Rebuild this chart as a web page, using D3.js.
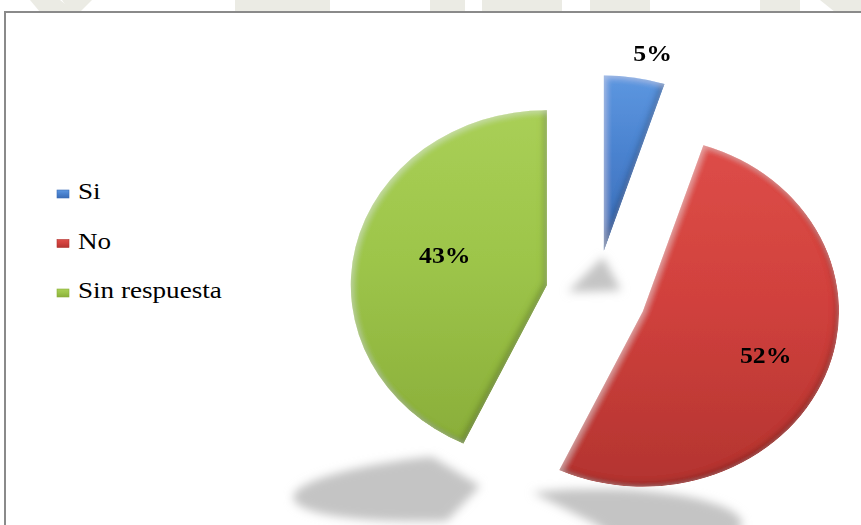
<!DOCTYPE html>
<html>
<head>
<meta charset="utf-8">
<script src="https://cdn.jsdelivr.net/npm/d3@7/dist/d3.min.js"></script>
<style>
  body { margin: 0; background: #fff; }
  text { font-family: "Liberation Serif", "Times New Roman", Tinos, serif; }
</style>
</head>
<body>
<div id="chart"></div>
<script>

// data
const categories = ["Si", "No", "Sin respuesta"];
const values = [5, 52, 43];
const colors = ["#4a82cf", "#d1413d", "#9dc54a"];
const colorsLight = ["#5d97e0", "#dd4d48", "#a9cf56"];
const colorsDark = ["#3a6cb6", "#b33430", "#8aae3a"];

const W = 861, H = 525;

const svg = d3.select("#chart").append("svg")
    .attr("width", W)
    .attr("height", H);

const defs = svg.append("defs");

// bevel: dark inner edge bottom-right, light inner edge top-left
let bevel = defs.append("filter").attr("id", "bevel")
    .attr("x", "-10%").attr("y", "-10%").attr("width", "120%").attr("height", "120%");
bevel.append("feGaussianBlur").attr("in", "SourceAlpha").attr("stdDeviation", 3).attr("result", "blur");
bevel.append("feOffset").attr("in", "blur").attr("dx", -3).attr("dy", -3).attr("result", "offDark");
bevel.append("feComposite").attr("in", "SourceAlpha").attr("in2", "offDark")
    .attr("operator", "arithmetic").attr("k2", 1).attr("k3", -1).attr("result", "edgeDark");
bevel.append("feFlood").attr("flood-color", "#000").attr("flood-opacity", 0.45);
bevel.append("feComposite").attr("in2", "edgeDark").attr("operator", "in").attr("result", "shadeDark");
bevel.append("feOffset").attr("in", "blur").attr("dx", 2).attr("dy", 2).attr("result", "offLight");
bevel.append("feComposite").attr("in", "SourceAlpha").attr("in2", "offLight")
    .attr("operator", "arithmetic").attr("k2", 1).attr("k3", -1).attr("result", "edgeLight");
bevel.append("feFlood").attr("flood-color", "#fff").attr("flood-opacity", 0.35);
bevel.append("feComposite").attr("in2", "edgeLight").attr("operator", "in").attr("result", "shadeLight");
let merge = bevel.append("feMerge");
merge.append("feMergeNode").attr("in", "SourceGraphic");
merge.append("feMergeNode").attr("in", "shadeDark");
merge.append("feMergeNode").attr("in", "shadeLight");

defs.append("filter").attr("id", "soft")
    .attr("x", "-30%").attr("y", "-100%").attr("width", "160%").attr("height", "300%")
    .append("feGaussianBlur").attr("stdDeviation", 5);

colors.forEach((c, i) => {
    let g = defs.append("linearGradient").attr("id", "grad" + i)
        .attr("x1", 0).attr("y1", 0).attr("x2", 0).attr("y2", 1);
    g.append("stop").attr("offset", "0%").attr("stop-color", colorsLight[i]);
    g.append("stop").attr("offset", "45%").attr("stop-color", c);
    g.append("stop").attr("offset", "100%").attr("stop-color", colorsDark[i]);
});

// faint watermark above the frame
const wm = svg.append("g").attr("fill", "#ebebe4");
wm.append("path").attr("d", "M30,0 L60,0 L75,12 L40,12 Z");
wm.append("path").attr("d", "M62,0 L92,0 L80,12 L70,12 Z");
wm.append("rect").attr("x", 235).attr("y", 0).attr("width", 95).attr("height", 12);
wm.append("rect").attr("x", 430).attr("y", 0).attr("width", 35).attr("height", 12);
wm.append("rect").attr("x", 482).attr("y", 0).attr("width", 80).attr("height", 12);
wm.append("rect").attr("x", 590).attr("y", 0).attr("width", 60).attr("height", 12);
wm.append("rect").attr("x", 760).attr("y", 0).attr("width", 40).attr("height", 12);
wm.append("path").attr("d", "M820,0 L861,0 L861,12 L835,12 Z");

// chart frame
svg.append("rect")
    .attr("x", 5).attr("y", 12)
    .attr("width", W + 20).attr("height", H)
    .attr("fill", "#fff")
    .attr("stroke", "#8a8a8a")
    .attr("stroke-width", 2);

// pie layout
const r = 175, sx = 1.12, cx = 596, cy = 295, explode = 45;

const data = categories.map((c, i) => ({name: c, value: values[i], idx: i}));
const arcs = d3.pie().sort(null).value(d => d.value)(data);
const arc = d3.arc().innerRadius(0).outerRadius(r);
const mid = d => (d.startAngle + d.endAngle) / 2;

// floor shadows, flattened copies of the slices
const shadowMatrix = [
    "matrix(0.95,0,0.2,-0.2,603,257)",
    "matrix(0.84,0,0,-0.2,595,524)",
    "matrix(1.05,-0.03,0.19,-0.2,480,486)"
];
svg.append("g").attr("filter", "url(#soft)")
    .selectAll("path")
    .data(arcs)
    .enter().append("path")
    .attr("d", arc)
    .attr("fill", "#c4c4c4")
    .attr("transform", d => shadowMatrix[d.index]);

// slices
const pieG = svg.append("g")
    .attr("transform", `translate(${cx},${cy}) scale(${sx},1)`);

pieG.selectAll("path")
    .data(arcs)
    .enter().append("path")
    .attr("d", arc)
    .attr("fill", d => `url(#grad${d.index})`)
    .attr("filter", "url(#bevel)")
    .attr("transform", d => `translate(${explode * Math.sin(mid(d))},${-explode * Math.cos(mid(d))})`);

// percentage labels
const labelAt = [{r: 202, da: 0.06}, {r: 118, da: 0}, {r: 96, da: 0.1}];
svg.append("g")
    .selectAll("text")
    .data(arcs)
    .enter().append("text")
    .attr("transform", d => {
        let m = mid(d), l = labelAt[d.index], a = m + l.da;
        let x = cx + sx * (explode * Math.sin(m) + l.r * Math.sin(a));
        let y = cy - explode * Math.cos(m) - l.r * Math.cos(a);
        return `translate(${x},${y}) scale(1.12,1)`;
    })
    .attr("text-anchor", "middle")
    .attr("dy", "0.35em")
    .attr("font-family", "Liberation Serif, serif")
    .style("font-size", "23px")
    .style("font-weight", "bold")
    .attr("fill", "#000")
    .text(d => d.data.value + "%");

// legend
const legend = svg.append("g").attr("transform", "translate(57,199)");
const rows = legend.selectAll("g")
    .data(data)
    .enter().append("g")
    .attr("transform", (d, i) => `translate(0,${i * 49.5})`);

rows.append("rect")
    .attr("x", 0).attr("y", -9)
    .attr("width", 12).attr("height", 8)
    .attr("fill", d => `url(#grad${d.idx})`)
    .attr("stroke", d => colorsDark[d.idx])
    .attr("stroke-width", 0.6);

rows.append("text")
    .attr("transform", "translate(21,0) scale(1.13,1)")
    .attr("font-family", "Liberation Serif, serif")
    .style("font-size", "24px")
    .attr("fill", "#000")
    .text(d => d.name);

</script>
</body>
</html>
